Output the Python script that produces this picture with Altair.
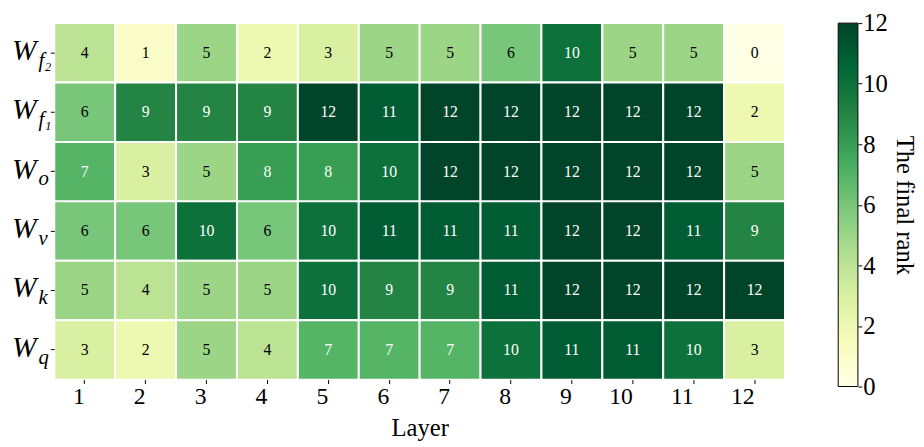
import altair as alt
import pandas as pd

layers = [str(i) for i in range(1, 13)]
rows = ["f2", "f1", "o", "v", "k", "q"]
subs = ["f₂", "f₁", "o", "v", "k", "q"]
values = [
    [4, 1, 5, 2, 3, 5, 5, 6, 10, 5, 5, 0],
    [6, 9, 9, 9, 12, 11, 12, 12, 12, 12, 12, 2],
    [7, 3, 5, 8, 8, 10, 12, 12, 12, 12, 12, 5],
    [6, 6, 10, 6, 10, 11, 11, 11, 12, 12, 11, 9],
    [5, 4, 5, 5, 10, 9, 9, 11, 12, 12, 12, 12],
    [3, 2, 5, 4, 7, 7, 7, 10, 11, 11, 10, 3],
]
cbar_title = "The final rank"
cbar_ticks = [0, 2, 4, 6, 8, 10, 12]
cbar_range = [0, 12]
ylgn = ["#ffffe5", "#f7fcb9", "#d9f0a3", "#addd8e", "#78c679",
        "#41ab5d", "#238443", "#006837", "#004529"]
ylgn_domain = [0, 1.5, 3, 4.5, 6, 7.5, 9, 10.5, 12]

recs = []
for r, vals in zip(rows, values):
    for l, v in zip(layers, vals):
        recs.append({"row": r, "layer": l, "rank": v})
df = pd.DataFrame(recs)
lab = pd.DataFrame({"row": rows, "W": ["W"] * len(rows), "sub": subs})

FONT = "Liberation Serif"

x = alt.X("layer:O", sort=layers, title="Layer",
          axis=alt.Axis(labelAngle=0, labelFontSize=24, titleFontSize=25,
                        labelFont=FONT, titleFont=FONT, tickSize=4,
                        labelAlign="right",
                        domain=False, labelPadding=1, titlePadding=8, labelColor="black",
                        titleColor="black", titleFontWeight="normal"))
y = alt.Y("row:N", sort=rows, title=None,
          axis=alt.Axis(labels=False, tickSize=4, domain=False))

rect = alt.Chart(df).mark_rect(stroke="white", strokeWidth=2).encode(
    x=x, y=y,
    color=alt.Color("rank:Q", scale=alt.Scale(domain=ylgn_domain, range=ylgn), legend=None),
)

txt = alt.Chart(df).mark_text(font=FONT, fontSize=16).encode(
    x=alt.X("layer:O", sort=layers),
    y=alt.Y("row:N", sort=rows),
    text="rank:Q",
    color=alt.condition(alt.datum.rank >= 7, alt.value("white"), alt.value("black")),
)

wlab = alt.Chart(lab).mark_text(font=FONT, fontSize=30, fontStyle="italic",
                                align="left", baseline="middle", dy=-2).encode(
    x=alt.value(-43), y=alt.Y("row:N", sort=rows), text="W:N")
slab = alt.Chart(lab).mark_text(font=FONT, fontSize=21, fontStyle="italic",
                                align="left", baseline="middle", dy=8).encode(
    x=alt.value(-16), y=alt.Y("row:N", sort=rows), text="sub:N")

heat = alt.layer(rect, txt, wlab, slab).properties(width=742, height=362)

grad = alt.LinearGradient(
    gradient="linear",
    stops=[alt.GradientStop(color=c, offset=d / 12) for c, d in zip(ylgn, ylgn_domain)],
    x1=0, x2=0, y1=1, y2=0,
)
cbar = alt.Chart(pd.DataFrame({"lo": [cbar_range[0]], "hi": [cbar_range[1]]})).mark_rect(
    fill=grad, stroke="black", strokeWidth=1).encode(
    y=alt.Y("lo:Q", scale=alt.Scale(domain=cbar_range, nice=False),
            axis=alt.Axis(orient="right", values=cbar_ticks, title=cbar_title,
                          titleAngle=90, titleFont=FONT, titleFontSize=25,
                          titleFontWeight="normal", titleColor="black",
                          titleBaseline="bottom", titlePadding=4,
                          labelFont=FONT, labelFontSize=25, labelColor="black",
                          labelFlush=False, labelPadding=1, tickSize=4,
                          domain=False, grid=False)),
    y2="hi:Q",
    x=alt.value(0), x2=alt.value(20),
).properties(width=20, height=369)

chart = alt.hconcat(heat, cbar, spacing=51).properties(
    padding={"left": 4, "top": 0, "right": 0, "bottom": 0},
).configure_view(stroke=None).configure_axis(tickColor="black")

chart.save("out.html", embed_options={"renderer": "svg", "actions": False})
